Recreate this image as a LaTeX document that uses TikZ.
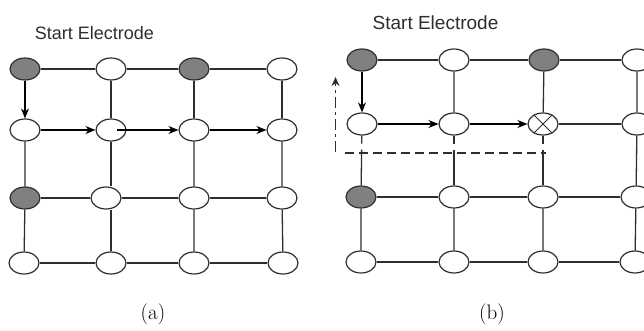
\documentclass[tikz,border=0pt]{standalone}
\usepackage{fontspec}
\newfontfamily\arialf{Liberation Sans}
\usetikzlibrary{arrows.meta,shapes.geometric}
\definecolor{linec}{HTML}{2E2E2E}
\definecolor{fillg}{HTML}{808080}
\tikzset{
  elec/.style={ellipse, draw=linec, line width=1.2pt, fill=white, minimum width=30pt, minimum height=22pt, inner sep=0pt},
  selec/.style={elec, fill=fillg},
  wire/.style={draw=linec, line width=1.3pt},
  flow/.style={draw=black, line width=1.5pt, -{Stealth[length=10pt,width=8pt]}},
  brk/.style={wire, dash pattern=on 8pt off 6pt on 300pt},
  lbl/.style={font=\arialf\fontsize{18}{20}\selectfont, text=linec, inner sep=0pt},
  captxt/.style={inner sep=0pt},
}
\begin{document}
\begin{tikzpicture}[x=1pt,y=-1pt]
\useasboundingbox (0,0) rectangle (644,331);
% ---------- panel (a)
\node[lbl] (ta) at (94.5,33) {Start Electrode};
\node[selec] (a11) at (25,69) {};
\node[elec]  (a12) at (111,69) {};
\node[selec] (a13) at (194,69) {};
\node[elec]  (a14) at (282,69) {};
\node[elec]  (a21) at (25,130) {};
\node[elec]  (a22) at (111,130) {};
\node[elec]  (a23) at (194,130) {};
\node[elec]  (a24) at (282,130) {};
\node[selec] (a31) at (25,198) {};
\node[elec]  (a32) at (106,198) {};
\node[elec]  (a33) at (194,198) {};
\node[elec]  (a34) at (282,198) {};
\node[elec]  (a41) at (24,263) {};
\node[elec]  (a42) at (111,263) {};
\node[elec]  (a43) at (194,263) {};
\node[elec]  (a44) at (283,263) {};
\draw[wire] (a11) -- (a12) -- (a13) -- (a14);
\draw[wire] (a12) -- (a22) (a13) -- (a23) (a14) -- (a24);
\draw[wire] (a21) -- (a31) -- (a41) (a23) -- (a33) -- (a43) (a24) -- (a34) -- (a44);
\draw[wire] (a22) -- (a22 |- a32.north) (a42 |- a32.south) -- (a42);
\draw[wire] (a31) -- (a32) -- (a33) -- (a34);
\draw[wire] (a41) -- (a42) -- (a43) -- (a44);
\draw[flow] (a11) -- (a21);
\draw[flow] (a21) -- (a22);
\coordinate (a22r) at (117,130);
\draw[flow] (a22r) -- (a23);
\draw[flow] (a23) -- (a24);
\node[captxt] (capa) at (153,314) {\fontsize{21}{24}\selectfont (a)};
% ---------- panel (b)
\node[lbl, font=\arialf\fontsize{19}{21}\selectfont] (tb) at (435.5,23) {Start Electrode};
\node[selec] (b11) at (362,60) {};
\node[elec]  (b12) at (454,60) {};
\node[selec] (b13) at (544,60) {};
\node[elec]  (b14) at (637,60) {};
\node[elec]  (b21) at (362,124) {};
\node[elec]  (b22) at (454,124) {};
\node[elec]  (b23) at (543,124) {};
\node[elec]  (b24) at (637,124) {};
\node[selec] (b31) at (361,197) {};
\node[elec]  (b32) at (454,197) {};
\node[elec]  (b33) at (543,197) {};
\node[elec]  (b34) at (636,197) {};
\node[elec]  (b41) at (361,262) {};
\node[elec]  (b42) at (454,262) {};
\node[elec]  (b43) at (543,262) {};
\node[elec]  (b44) at (635,262) {};
\draw[wire, line width=1pt] (b23.45) -- (b23.225) (b23.135) -- (b23.315);
\draw[wire] (b11) -- (b12) -- (b13) -- (b14);
\draw[wire] (b12) -- (b22) (b13) -- (b23) (b14) -- (b24);
\draw[wire] (b23) -- (b24);
\draw[brk] (b21) -- (b31);
\draw[brk] (b22) -- (b32);
\draw[brk] (b23) -- (b33);
\draw[wire] (b24) -- (b34);
\draw[wire] (b31) -- (b41) (b32) -- (b42) (b33) -- (b43) (b34) -- (b44);
\draw[wire] (b31) -- (b32) -- (b33) -- (b34);
\draw[wire] (b41) -- (b42) -- (b43) -- (b44);
\draw[flow] (b11) -- (b21);
\draw[flow] (b21) -- (b22);
\draw[flow] (b22) -- (b23);
\coordinate (dl) at (345,153);
\coordinate (dr) at (546,153);
\draw[draw=linec, line width=1.2pt, dash pattern=on 9pt off 5pt] (dl) -- (dr);
\coordinate (ub) at (335.5,152);
\coordinate (ut) at (335.5,77);
\draw[draw=linec, line width=1.2pt, dash pattern=on 11pt off 4pt on 3pt off 4pt, -{Stealth[length=9pt,width=8pt]}] (ub) -- (ut);
\node[captxt] (capb) at (492,314) {\fontsize{21}{24}\selectfont (b)};
\end{tikzpicture}
\end{document}
